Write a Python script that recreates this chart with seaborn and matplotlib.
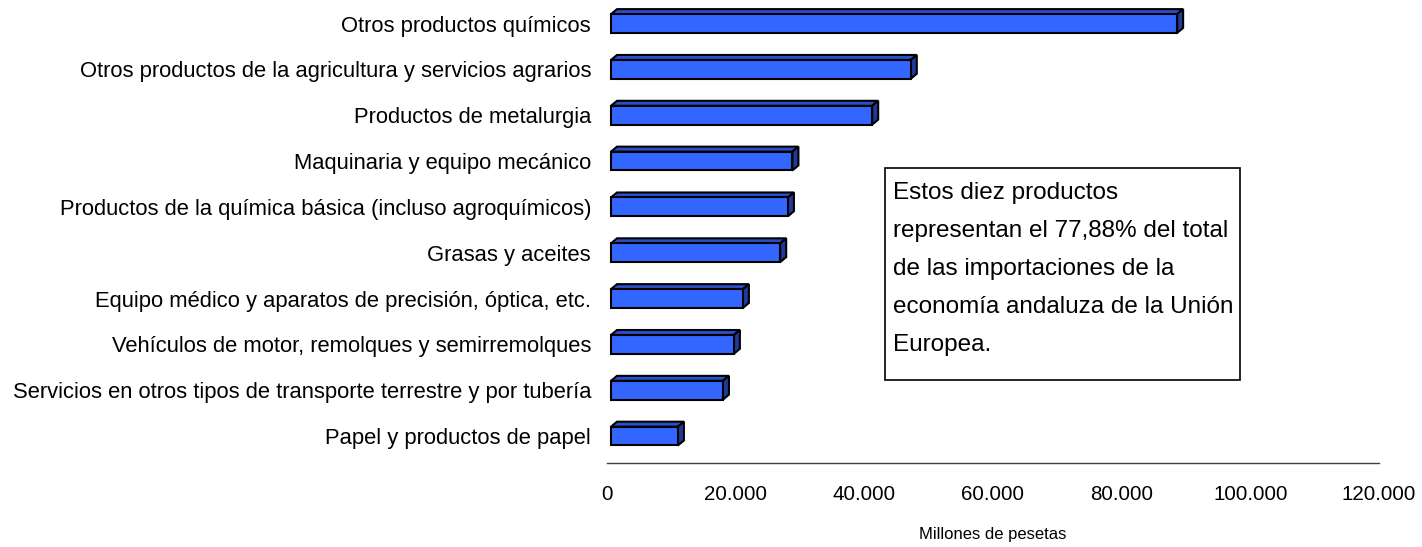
import pandas as pd
import seaborn as sns
import matplotlib.pyplot as plt
from matplotlib.patches import Polygon, Rectangle

productos = [
    'Otros productos químicos',
    'Otros productos de la agricultura y servicios agrarios',
    'Productos de metalurgia',
    'Maquinaria y equipo mecánico',
    'Productos de la química básica (incluso agroquímicos)',
    'Grasas y aceites',
    'Equipo médico y aparatos de precisión, óptica, etc.',
    'Vehículos de motor, remolques y semirremolques',
    'Servicios en otros tipos de transporte terrestre y por tubería',
    'Papel y productos de papel',
]
importaciones = [88000, 46600, 40600, 28200, 27500, 26300, 20500, 19100, 17400, 10400]

x_ticks = [0, 20000, 40000, 60000, 80000, 100000, 120000]

nota = ['Estos diez productos',
        'representan el 77,88% del total',
        'de las importaciones de la',
        'economía andaluza de la Unión',
        'Europea.']

df = pd.DataFrame({'producto': productos, 'valor': importaciones})

sns.set_style('white')
plt.rcParams['font.family'] = ['Liberation Sans', 'DejaVu Sans']
plt.rcParams['text.color'] = 'black'
plt.rcParams['xtick.color'] = 'black'
plt.rcParams['ytick.color'] = 'black'
plt.rcParams['axes.labelcolor'] = 'black'

W, H = 1422, 547
fig = plt.figure(figsize=(W / 100, H / 100), dpi=100)
ax = fig.add_axes([607 / W, (H - 459) / H, (1379 - 607) / W, (459 - 0.6) / H])

front = '#3366ff'
top_c = '#2b4fc9'
side_c = '#1f3a99'

sns.barplot(data=df, x='valor', y='producto', orient='h', color=front,
            saturation=1, width=0.41, ax=ax, edgecolor='black', linewidth=1.5)

ax.set_xlim(0, 120000)
ax.set_ylim(len(productos) - 0.5, -0.5)

# small shift of the front faces, as in the original 3D chart
shift = 4 * 120000 / 772
dx, dy = 6, 5
for p in ax.patches:
    p.set_x(p.get_x() + shift)
    p.set_joinstyle('miter')
    p.set_zorder(3)

inv = ax.transData.inverted()
for p in list(ax.patches):
    x0, x1 = p.get_x(), p.get_x() + p.get_width()
    y0, y1 = p.get_y(), p.get_y() + p.get_height()
    (X0, Ya), (X1, Yb) = ax.transData.transform([(x0, y0), (x1, y1)])
    Yt, Yb = max(Ya, Yb), min(Ya, Yb)
    top = inv.transform([(X0, Yt), (X1, Yt), (X1 + dx, Yt + dy), (X0 + dx, Yt + dy)])
    side = inv.transform([(X1, Yt), (X1, Yb), (X1 + dx, Yb + dy), (X1 + dx, Yt + dy)])
    ax.add_patch(Polygon(top, closed=True, facecolor=top_c, edgecolor='black',
                         linewidth=1.5, joinstyle='miter', zorder=2))
    ax.add_patch(Polygon(side, closed=True, facecolor=side_c, edgecolor='black',
                         linewidth=1.5, joinstyle='miter', zorder=2))

for s in ['top', 'right', 'left']:
    ax.spines[s].set_visible(False)
ax.spines['bottom'].set_position(('outward', 3))
ax.spines['bottom'].set_color('#404040')
ax.spines['bottom'].set_linewidth(1)

ax.set_xticks(x_ticks)
ax.set_xticklabels([f'{v:,}'.replace(',', '.') for v in x_ticks])
ax.tick_params(axis='x', direction='out', length=8.6, width=1, color='#404040',
               pad=7, labelsize=14.8)
ax.tick_params(axis='y', length=0, pad=11.5, labelsize=15.8)
ax.set_ylabel('')
ax.set_xlabel('Millones de pesetas', fontsize=12, va='center')
ax.xaxis.set_label_coords(0.5, -(534 - 459) / 458.4)

# text box
fig.patches.append(Rectangle((885 / W, (H - 380) / H), (1240 - 885) / W, (380 - 168) / H,
                             transform=fig.transFigure, facecolor='white',
                             edgecolor='black', linewidth=1.2))
for i, linea in enumerate(nota):
    fig.text(893 / W, (H - (199 + 38.1 * i)) / H, linea, fontsize=17.5,
             va='baseline', ha='left')

fig.savefig('out.png', dpi=100)
